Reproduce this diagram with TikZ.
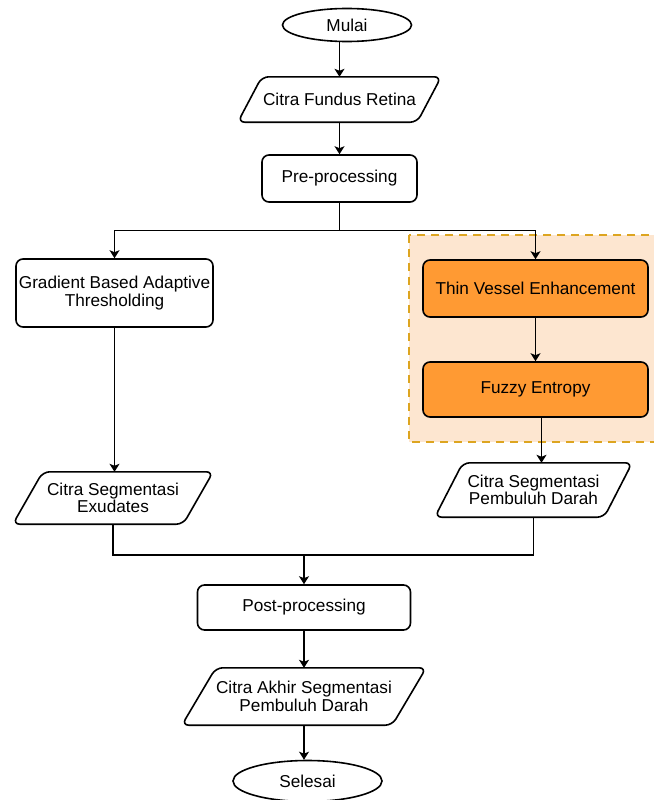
\documentclass[tikz,border=0pt]{standalone}
\usepackage{fontspec}
\setmainfont{Liberation Sans}
\usetikzlibrary{shapes.geometric, arrows.meta, positioning, calc}
\definecolor{oranye}{HTML}{FF9A33}
\definecolor{latar}{HTML}{FDE6D0}
\definecolor{garis}{HTML}{DDA520}

\begin{document}
\begin{tikzpicture}[x=1pt, y=-1pt,
  font=\fontsize{17.2}{17.5}\selectfont,
  bentuk/.style={line width=1.6pt, rounded corners=7pt},
  terminal/.style={ellipse, draw, line width=1.6pt, inner sep=0pt},
  proses/.style={rectangle, rounded corners=7pt, draw, line width=1.6pt, inner sep=0pt, align=center},
  data/.style={rectangle, inner sep=0pt, align=center},
  panah/.style={-{Stealth[length=8pt,width=10pt,inset=2pt]}, line width=1.1pt}]
  \useasboundingbox (0,0) rectangle (653,800);
  % Kotak latar segmentasi pembuluh (putus-putus)
  \draw[garis, dash pattern=on 8pt off 6pt, line width=2pt, fill=latar] (409,235) rectangle (665,442);
  % Awal
  \node[terminal, minimum width=129, minimum height=33] (mulai) at (347,25) {Mulai};
  \node[data, minimum width=203, minimum height=45] (fundus) at (339.5,99.5) {Citra Fundus Retina};
  \node[proses, minimum width=155, minimum height=47] (pre) at (339.5,178.5) {Pre-processing};
  % Cabang kiri: exudates
  \node[proses, fill=white, minimum width=197, minimum height=68] (gbat) at (114.5,293) {Gradient Based Adaptive\\Thresholding};
  \node[data, minimum width=200, minimum height=52] (exu) at (113,498) {Citra Segmentasi\\Exudates};
  % Cabang kanan: pembuluh darah
  \node[proses, fill=oranye, minimum width=225, minimum height=57] (tve) at (535.5,288.5) {Thin Vessel Enhancement};
  \node[proses, fill=oranye, minimum width=225, minimum height=55] (fe) at (535.5,389.5) {Fuzzy Entropy};
  \node[data, minimum width=197, minimum height=54] (pdarah) at (533.5,490) {Citra Segmentasi\\Pembuluh Darah};
  % Akhir
  \node[proses, minimum width=213, minimum height=45] (post) at (304,607.5) {Post-processing};
  \node[data, minimum width=244, minimum height=57] (akhir) at (304,696.5) {Citra Akhir Segmentasi\\Pembuluh Darah};
  \node[terminal, minimum width=149, minimum height=41] (selesai) at (307.5,781) {Selesai};
  % Jajaran genjang untuk data
  \foreach \n/\s in {fundus/24, exu/30, pdarah/28, akhir/34}{
    \draw[bentuk] ([xshift=\s]\n.north west) -- (\n.north east) -- ([xshift=-\s]\n.south east)
      -- (\n.south west) -- cycle;
  }
  % Titik belok
  \coordinate (pisah) at ($(pre.south)+(0,28)$);
  \coordinate (gabung) at (post.north |- 0,555);
  % Panah
  \draw[panah] (mulai.south -| fundus.north) -- (fundus.north);
  \draw[panah] (fundus.south) -- (pre.north);
  \draw[panah] (pre.south) -- (pisah) -| (gbat.north);
  \draw[panah] (pisah) -| (tve.north);
  \draw[panah] (tve) -- (fe);
  \draw[panah] ([xshift=6pt]fe.south) -- ([xshift=6pt]fe.south |- pdarah.north);
  \draw[panah] (gbat) -- (gbat.south |- exu.north);
  \draw[line width=1.1pt] (exu.south) |- (gabung) -| (pdarah.south);
  \draw[panah] (gabung) -- (post.north);
  \draw[panah] (post) -- (akhir);
  \draw[panah] (akhir.south) -- (akhir.south |- selesai.north);
\end{tikzpicture}
\end{document}
